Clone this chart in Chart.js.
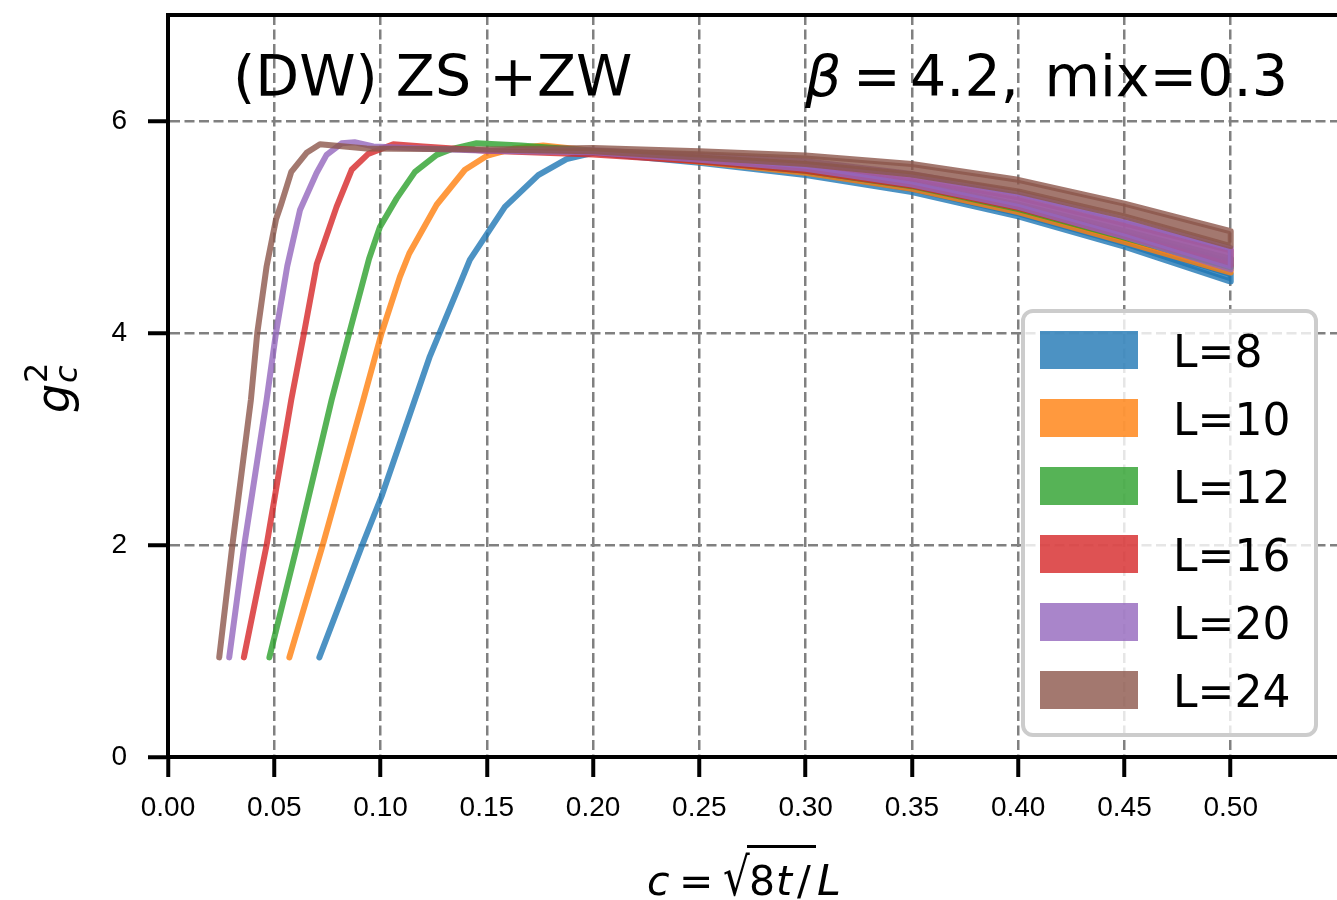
<!DOCTYPE html>
<html>
<head>
<meta charset="utf-8">
<script src="https://cdn.jsdelivr.net/npm/chart.js@4.4.0/dist/chart.umd.min.js"></script>
<style>
    html, body { margin: 0; padding: 0; background: #fff; }
    #wrap { width: 1337px; height: 900px; }
</style>
</head>
<body>
<div id="wrap"><canvas id="chart" width="1337" height="900"></canvas></div>
<script>
// ===== Data =====
const sizes = [8, 10, 12, 16, 20, 24];

// c = sqrt(8t)/L, g_c^2 (band centre), e = half width of the band
const cL8  = [0.0712, 0.0914, 0.1005, 0.1091, 0.1232, 0.1342, 0.1420, 0.1585, 0.1742, 0.1875, 0.2000, 0.25, 0.30, 0.35, 0.40, 0.45, 0.50];
const gL8  = [0.94, 2.00, 2.46, 2.96, 3.78, 4.31, 4.69, 5.19, 5.49, 5.64, 5.70, 5.61, 5.50, 5.345, 5.12, 4.84, 4.52];
const eL8  = [0, 0, 0, 0, 0, 0, 0, 0, 0, 0, 0, 0.005, 0.01, 0.015, 0.02, 0.025, 0.035];

const cL10 = [0.0571, 0.0728, 0.0919, 0.1005, 0.1091, 0.1135, 0.1264, 0.1397, 0.1499, 0.1624, 0.1765, 0.20, 0.25, 0.30, 0.35, 0.40, 0.45, 0.50];
const gL10 = [0.94, 2.00, 3.37, 4.00, 4.53, 4.75, 5.21, 5.54, 5.67, 5.74, 5.77, 5.72, 5.62, 5.52, 5.37, 5.155, 4.88, 4.60];
const eL10 = [0, 0, 0, 0, 0, 0, 0, 0, 0, 0, 0, 0, 0.005, 0.008, 0.01, 0.015, 0.02, 0.03];

const cL12 = [0.0477, 0.0608, 0.0770, 0.0853, 0.0946, 0.0997, 0.1076, 0.1162, 0.1264, 0.1342, 0.1452, 0.1660, 0.20, 0.25, 0.30, 0.35, 0.40, 0.45, 0.50];
const gL12 = [0.94, 2.00, 3.37, 4.00, 4.70, 5.00, 5.27, 5.52, 5.68, 5.74, 5.79, 5.77, 5.72, 5.63, 5.54, 5.40, 5.19, 4.93, 4.66];
const eL12 = [0, 0, 0, 0, 0, 0, 0, 0, 0, 0, 0, 0, 0, 0.005, 0.01, 0.015, 0.02, 0.03, 0.04];

const cL16 = [0.0357, 0.0464, 0.0580, 0.0640, 0.0700, 0.0793, 0.0864, 0.0942, 0.1060, 0.120, 0.150, 0.20, 0.25, 0.30, 0.35, 0.40, 0.45, 0.50];
const gL16 = [0.94, 2.00, 3.37, 4.00, 4.65, 5.19, 5.54, 5.69, 5.78, 5.76, 5.72, 5.69, 5.635, 5.555, 5.425, 5.23, 4.975, 4.71];
const eL16 = [0, 0, 0, 0, 0, 0, 0, 0, 0, 0, 0, 0.005, 0.015, 0.025, 0.035, 0.05, 0.06, 0.07];

const cL20 = [0.0288, 0.0359, 0.0464, 0.0508, 0.0561, 0.0621, 0.0699, 0.0746, 0.0817, 0.0878, 0.0966, 0.120, 0.150, 0.20, 0.25, 0.30, 0.35, 0.40, 0.45, 0.50];
const gL20 = [0.94, 2.00, 3.37, 4.00, 4.63, 5.16, 5.51, 5.68, 5.79, 5.80, 5.76, 5.74, 5.72, 5.715, 5.655, 5.585, 5.45, 5.255, 4.99, 4.70];
const eL20 = [0, 0, 0, 0, 0, 0, 0, 0, 0, 0, 0, 0, 0, 0.01, 0.02, 0.035, 0.05, 0.065, 0.08, 0.10];

const cL24 = [0.0241, 0.0303, 0.0390, 0.0420, 0.0464, 0.0508, 0.0530, 0.0580, 0.0652, 0.0715, 0.0934, 0.150, 0.20, 0.25, 0.30, 0.35, 0.40, 0.45, 0.50];
const gL24 = [0.94, 2.00, 3.37, 4.00, 4.63, 5.07, 5.20, 5.52, 5.70, 5.78, 5.74, 5.73, 5.73, 5.685, 5.635, 5.545, 5.39, 5.16, 4.89];
const eL24 = [0, 0, 0, 0, 0, 0, 0, 0, 0, 0, 0, 0, 0.015, 0.03, 0.04, 0.05, 0.055, 0.06, 0.07];

const xTickValues = [0, 0.05, 0.10, 0.15, 0.20, 0.25, 0.30, 0.35, 0.40, 0.45, 0.50];
const yTickValues = [0, 2, 4, 6];

const colors = [
    'rgba(31,119,180,0.8)',
    'rgba(255,127,14,0.8)',
    'rgba(44,160,44,0.8)',
    'rgba(214,39,40,0.8)',
    'rgba(148,103,189,0.8)',
    'rgba(140,86,75,0.8)'
];

const cArr = [cL8, cL10, cL12, cL16, cL20, cL24];
const gArr = [gL8, gL10, gL12, gL16, gL20, gL24];
const eArr = [eL8, eL10, eL12, eL16, eL20, eL24];

// closed outline: upper edge forward, lower edge back
function bandPoints(c, g, e) {
    const upper = c.map((x, i) => ({ x, y: g[i] + e[i] }));
    const lower = c.map((x, i) => ({ x, y: g[i] - e[i] })).reverse();
    return upper.concat(lower);
}

const datasets = sizes.map((L, i) => ({
    label: 'L=' + L,
    data: bandPoints(cArr[i], gArr[i], eArr[i]),
    borderColor: colors[i],
    backgroundColor: colors[i],
    borderWidth: 6,
    borderCapStyle: 'round',
    borderJoinStyle: 'round',
    fill: 'shape',
    pointRadius: 0,
    tension: 0,
    order: sizes.length - i
}));

// ===== Texts, top spine, legend =====
const FONT = '"DejaVu Sans"';
const decorations = {
    id: 'decorations',
    afterDatasetsDraw(chart) {
        const ctx = chart.ctx;
        const a = chart.chartArea;
        ctx.save();

        // top spine
        ctx.strokeStyle = '#000';
        ctx.lineWidth = 4;
        ctx.beginPath();
        ctx.moveTo(a.left - 2, a.top);
        ctx.lineTo(a.right, a.top);
        ctx.stroke();

        ctx.fillStyle = '#000';
        ctx.textBaseline = 'alphabetic';
        ctx.textAlign = 'left';

        // annotations in the plot
        ctx.font = '57px ' + FONT;
        ctx.fillText('(DW) ZS +ZW', 233, 96);
        ctx.font = 'italic 57px ' + FONT;
        ctx.fillText('\u03B2', 805, 96);
        ctx.font = '57px ' + FONT;
        ctx.fillText('=', 853, 96);
        ctx.fillText('4.2,', 910, 96);
        ctx.textAlign = 'right';
        ctx.fillText('mix=0.3', 1288, 96);
        ctx.textAlign = 'left';

        // x title: c = sqrt(8t)/L
        const by = 895;
        ctx.font = 'italic 41px ' + FONT;
        ctx.fillText('c', 647, by);
        ctx.font = '41px ' + FONT;
        ctx.fillText('=', 679, by);
        ctx.save();
        ctx.translate(723, by);
        ctx.scale(1, 1.25);
        ctx.font = '42px ' + FONT;
        ctx.fillText('\u221A', 0, 0);
        ctx.restore();
        ctx.fillRect(747, 845, 69, 3);
        ctx.font = '41px ' + FONT;
        ctx.fillText('8', 749, by);
        ctx.font = 'italic 41px ' + FONT;
        ctx.fillText('t', 776, by);
        ctx.font = '41px ' + FONT;
        ctx.fillText('/', 797, by);
        ctx.font = 'italic 43px ' + FONT;
        ctx.fillText('L', 817, by);

        // y title: g_c^2
        ctx.save();
        ctx.translate(69, 413);
        ctx.rotate(-Math.PI / 2);
        ctx.font = 'italic 46px ' + FONT;
        ctx.fillText('g', 0, 0);
        ctx.font = 'italic 32px ' + FONT;
        ctx.fillText('c', 30, 8);
        ctx.font = '32px ' + FONT;
        ctx.fillText('2', 30, -22);
        ctx.restore();

        // legend
        const lx = 1023, ly = 311, lw = 293, lh = 424, r = 10;
        ctx.beginPath();
        ctx.roundRect(lx, ly, lw, lh, r);
        ctx.fillStyle = 'rgba(255,255,255,0.8)';
        ctx.fill();
        ctx.strokeStyle = '#cccccc';
        ctx.lineWidth = 4;
        ctx.stroke();

        ctx.font = '44px ' + FONT;
        chart.data.datasets.forEach((ds, i) => {
            const y0 = 331 + 68 * i;
            ctx.fillStyle = ds.backgroundColor;
            ctx.fillRect(1040, y0, 98, 38);
            ctx.fillStyle = '#000';
            ctx.fillText(ds.label, 1173, y0 + 36);
        });

        ctx.restore();
    }
};

function noPadding(scale) {
    scale.paddingTop = 0;
    scale.paddingBottom = 0;
    scale.paddingLeft = 0;
    scale.paddingRight = 0;
}

// ===== Chart =====
new Chart(document.getElementById('chart'), {
    type: 'line',
    data: { datasets },
    options: {
        responsive: false,
        animation: false,
        layout: { padding: { top: 15, right: 0, left: 0, bottom: 0 } },
        plugins: {
            legend: { display: false },
            tooltip: { enabled: false }
        },
        scales: {
            x: {
                type: 'linear',
                min: 0,
                max: 0.55,
                afterBuildTicks: scale => { scale.ticks = xTickValues.map(v => ({ value: v })); },
                afterFit: scale => { scale.height = 143; noPadding(scale); },
                ticks: {
                    color: '#000',
                    padding: 14,
                    maxRotation: 0,
                    font: { family: 'Liberation Sans', size: 28 },
                    callback: v => v.toFixed(2)
                },
                grid: {
                    color: '#808080',
                    lineWidth: 2.5,
                    tickLength: 20,
                    tickWidth: 4,
                    tickColor: '#000',
                    tickBorderDash: []
                },
                border: { display: true, color: '#000', width: 4, dash: [10, 4.5] }
            },
            y: {
                type: 'linear',
                min: 0,
                max: 7,
                afterBuildTicks: scale => { scale.ticks = yTickValues.map(v => ({ value: v })); },
                afterFit: scale => { scale.width = 168; noPadding(scale); },
                ticks: {
                    color: '#000',
                    padding: 21,
                    font: { family: 'Liberation Sans', size: 28 },
                    callback: v => String(v)
                },
                grid: {
                    color: '#808080',
                    lineWidth: 2.5,
                    tickLength: 20,
                    tickWidth: 4,
                    tickColor: '#000',
                    tickBorderDash: []
                },
                border: { display: true, color: '#000', width: 4, dash: [10, 4.5] }
            }
        }
    },
    plugins: [decorations]
});
</script>
</body>
</html>
